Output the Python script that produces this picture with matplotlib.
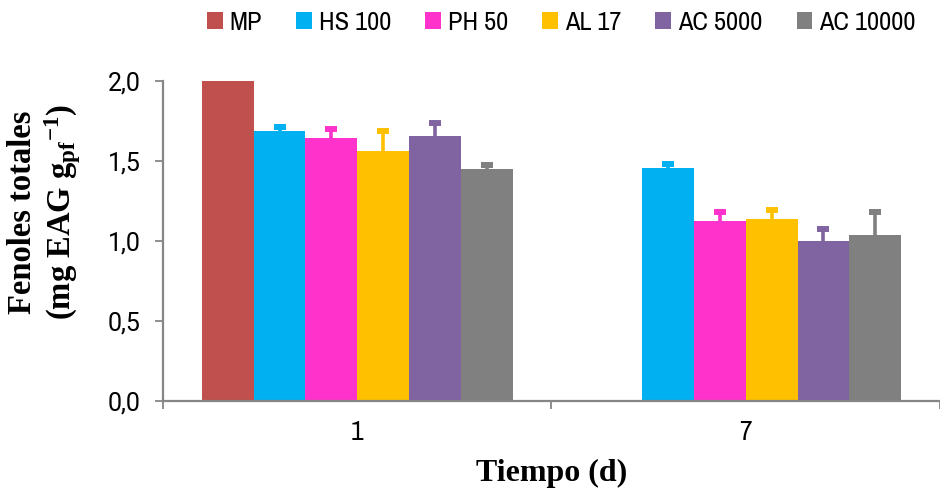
import numpy as np
import matplotlib
matplotlib.use("Agg")
import matplotlib.pyplot as plt
import matplotlib.ticker as ticker
from matplotlib import font_manager as fm
from matplotlib.font_manager import FontProperties

plt.rcParams["axes.unicode_minus"] = False
plt.rcParams["mathtext.fontset"] = "custom"
plt.rcParams["mathtext.bf"] = "Liberation Serif:bold"
plt.rcParams["mathtext.rm"] = "Liberation Serif:bold"
plt.rcParams["mathtext.it"] = "Liberation Serif:bold"

# ---------------- Data ----------------
days = ["1", "7"]
treatments = ["MP", "HS 100", "PH 50", "AL 17", "AC 5000", "AC 10000"]
colors = ["#C0504D", "#00B0F0", "#FF33CC", "#FFC000", "#8064A2", "#808080"]

# mean total phenols per treatment (day 1, day 7); MP has no day-7 value
mp_vals      = [2.00, 0.00]
hs100_vals   = [1.685, 1.455]
ph50_vals    = [1.645, 1.125]
al17_vals    = [1.56, 1.135]
ac5000_vals  = [1.655, 1.00]
ac10000_vals = [1.448, 1.035]

mp_err      = [0.0, 0.0]
hs100_err   = [0.03, 0.025]
ph50_err    = [0.055, 0.055]
al17_err    = [0.13, 0.06]
ac5000_err  = [0.085, 0.075]
ac10000_err = [0.03, 0.145]

values = [mp_vals, hs100_vals, ph50_vals, al17_vals, ac5000_vals, ac10000_vals]
errors = [mp_err, hs100_err, ph50_err, al17_err, ac5000_err, ac10000_err]


# ---------------- Fonts ----------------
def narrow_font(size):
    """Look for an Arial-Narrow-like face, else fall back to Liberation Sans."""
    cands = [f for f in fm.fontManager.ttflist
             if f.style == "normal" and f.weight in (400, "normal", "regular")]
    for key in ("Narrow", "Condensed"):
        for f in cands:
            if key in f.name:
                return FontProperties(fname=f.fname, size=size)
    for f in cands:
        if f.stretch in ("condensed", "semi-condensed"):
            return FontProperties(fname=f.fname, size=size)
    return FontProperties(family="Liberation Sans", size=size)


serif = "Liberation Serif"

# ---------------- Plot ----------------
fig = plt.figure(figsize=(9.4, 4.93), dpi=100)
ax = fig.add_axes([0.1734, 0.1866, 0.8266, 0.6491])

x = np.arange(len(days))
n = len(treatments)
width = 0.8 / n
for i, (name, col) in enumerate(zip(treatments, colors)):
    pos = x - 0.4 + width * (i + 0.5)
    vals = np.array(values[i])
    err = np.array(errors[i])
    keep = vals > 0
    ax.bar(pos[keep], vals[keep], width, color=col, label=name, zorder=2)
    has_err = keep & (err > 0)
    if has_err.any():
        # upper error only, stem plus a thick cap on top
        ax.errorbar(pos[has_err], vals[has_err],
                    yerr=[np.zeros(has_err.sum()), err[has_err]],
                    fmt="none", ecolor=col, elinewidth=2.6, capsize=0, zorder=3)
        ax.plot(pos[has_err], vals[has_err] + err[has_err], ls="none",
                marker="_", ms=9, mew=4.3, color=col, zorder=3)

ax.set_xlim(-0.5, 1.5)
ax.set_ylim(0, 2.0)

ax.yaxis.set_major_locator(ticker.MultipleLocator(0.5))
ax.yaxis.set_major_formatter(ticker.FuncFormatter(lambda v, p: f"{v:.1f}".replace(".", ",")))
ax.set_xticks([-0.5, 0.5, 1.5])
ax.set_xticks(x, minor=True)
ax.set_xticklabels([])
ax.set_xticklabels(days, minor=True)
for lab in ax.get_xticklabels(minor=True):
    lab.set_fontproperties(narrow_font(20))
ax.tick_params(axis="x", which="minor", length=0, pad=14)
ax.tick_params(axis="x", which="major", length=6, width=1.3, color="#868686")
ax.tick_params(axis="y", length=6, width=1.3, color="#868686", labelsize=18, pad=10)
for lab in ax.get_yticklabels():
    lab.set_family("Roboto")

for s in ["top", "right"]:
    ax.spines[s].set_visible(False)
for s in ["left", "bottom"]:
    ax.spines[s].set_color("#868686")
    ax.spines[s].set_linewidth(1.6)

ax.set_xlabel("Tiempo (d)", fontsize=23, fontweight="bold", fontfamily=serif)
ax.xaxis.set_label_coords(0.5, -0.18)
ax.set_ylabel("Fenoles totales\n(mg EAG g$_{\\mathrm{pf}}$$^{\\mathrm{-1}}$)", fontsize=23.5,
              fontweight="bold", fontfamily=serif, linespacing=1.15)
ax.yaxis.set_label_coords(-0.103, 0.59)

fig.legend(loc="upper left", bbox_to_anchor=(207 / 940, 1 - 11 / 493), ncol=6, frameon=False,
           borderpad=0, borderaxespad=0,
           handlelength=0.6, handleheight=0.6, handletextpad=0.25, columnspacing=1.3,
           prop=narrow_font(19))

fig.savefig("out.png", dpi=100)
